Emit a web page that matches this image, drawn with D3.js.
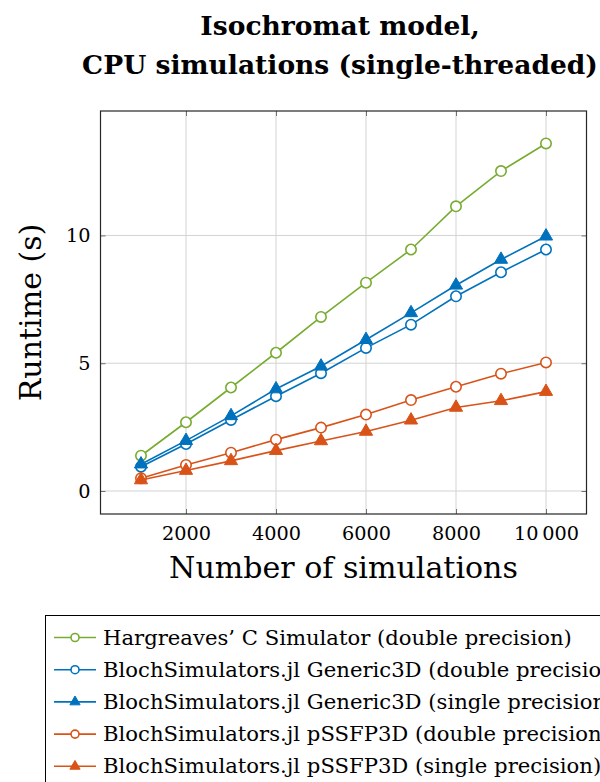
<!DOCTYPE html>
<html>
<head>
<meta charset="utf-8">
<script src="https://cdn.jsdelivr.net/npm/d3@7"></script>
<style>
html, body { margin: 0; padding: 0; background: #fff; }
svg { display: block; }
text { font-family: "DejaVu Serif", "Liberation Serif", serif; fill: #000; }
</style>
</head>
<body>
<script>
const simulations = [1000, 2000, 3000, 4000, 5000, 6000, 7000, 8000, 9000, 10000];
const hargreaves    = [1.38, 2.69, 4.05, 5.41, 6.81, 8.15, 9.45, 11.14, 12.52, 13.60];
const genericDouble = [0.95, 1.84, 2.78, 3.71, 4.61, 5.60, 6.51, 7.62, 8.56, 9.45];
const genericSingle = [1.05, 1.97, 2.94, 3.99, 4.88, 5.92, 6.97, 8.05, 9.06, 9.97];
const pssfpDouble   = [0.50, 1.02, 1.50, 2.01, 2.48, 2.99, 3.56, 4.08, 4.59, 5.03];
const pssfpSingle   = [0.43, 0.80, 1.18, 1.58, 1.96, 2.33, 2.77, 3.27, 3.53, 3.89];
const seriesNames = [
  "Hargreaves\u2019 C Simulator (double precision)",
  "BlochSimulators.jl Generic3D (double precision)",
  "BlochSimulators.jl Generic3D (single precision)",
  "BlochSimulators.jl pSSFP3D (double precision)",
  "BlochSimulators.jl pSSFP3D (single precision)"
];
const xTicks = [2000, 4000, 6000, 8000, 10000];
const xTickLabels = ["2000", "4000", "6000", "8000", "10\u2009000"];
const yTicks = [0, 5, 10];
const titleLines = ["Isochromat model,", "CPU simulations (single-threaded)"];
const xLabel = "Number of simulations";
const yLabel = "Runtime (s)";

const colors = ["#77AC30", "#0072BD", "#0072BD", "#D95319", "#D95319"];
const markers = ["circle", "circle", "triangle", "circle", "triangle"];
const values = [hargreaves, genericDouble, genericSingle, pssfpDouble, pssfpSingle];

const W = 600, H = 782;
const m = { left: 100.5, right: 586.5, top: 111, bottom: 514 };

const svg = d3.select("body").append("svg").attr("width", W).attr("height", H);

// helper: size a font so that a reference string has a given width
function fitSize(str, target, weight) {
  const t = svg.append("text").style("font-size", "20px").style("font-weight", weight || "normal").text(str);
  const w = t.node().getComputedTextLength();
  t.remove();
  return 20 * target / w;
}
const tickSize = fitSize("2000", 49);
const titleSize = fitSize(titleLines[1], 516, "bold");
const labelSize = fitSize(xLabel, 349);
const legendSize = fitSize(seriesNames[0], 469);

const x = d3.scaleLinear().domain([100, 10900]).range([m.left, m.right]);
const y = d3.scaleLinear().domain([-0.9, 14.87]).range([m.bottom, m.top]);

// grid
const g = svg.append("g");
g.selectAll(".gx").data(xTicks).enter().append("line")
  .attr("x1", d => x(d)).attr("x2", d => x(d))
  .attr("y1", m.top).attr("y2", m.bottom)
  .attr("stroke", "#d3d3d3").attr("stroke-width", 1);
g.selectAll(".gy").data(yTicks).enter().append("line")
  .attr("y1", d => y(d)).attr("y2", d => y(d))
  .attr("x1", m.left).attr("x2", m.right)
  .attr("stroke", "#d3d3d3").attr("stroke-width", 1);

// axes (ticks inside)
const tk = 5;
const xAxisB = d3.axisBottom(x).tickValues(xTicks).tickSize(-tk).tickPadding(0)
  .tickFormat((d, i) => xTickLabels[i]);
const xAxisT = d3.axisTop(x).tickValues(xTicks).tickSize(-tk).tickFormat("");
const yAxisL = d3.axisLeft(y).tickValues(yTicks).tickSize(-tk).tickPadding(10);
const yAxisR = d3.axisRight(y).tickValues(yTicks).tickSize(-tk).tickFormat("");

function styleAxis(sel) {
  sel.select(".domain").remove();
  sel.selectAll(".tick line").attr("stroke", "#707070").attr("stroke-width", 1);
  sel.selectAll("text").style("font-family", '"DejaVu Serif", serif')
    .style("font-size", tickSize + "px").attr("fill", "#000");
}
svg.append("g").attr("transform", `translate(0,${m.bottom})`).call(xAxisB).call(styleAxis)
  .selectAll("text").attr("y", 26).attr("dy", 0);
svg.append("g").attr("transform", `translate(0,${m.top})`).call(xAxisT).call(styleAxis);
svg.append("g").attr("transform", `translate(${m.left},0)`).call(yAxisL).call(styleAxis);
svg.append("g").attr("transform", `translate(${m.right},0)`).call(yAxisR).call(styleAxis);

// frame
svg.append("rect").attr("x", m.left).attr("y", m.top)
  .attr("width", m.right - m.left).attr("height", m.bottom - m.top)
  .attr("fill", "none").attr("stroke", "#262626").attr("stroke-width", 1.2);

// series
const line = d3.line().x((d, i) => x(simulations[i])).y(d => y(d));
const triSym = d3.symbol().type(d3.symbolTriangle).size(75);
values.forEach((vals, s) => {
  const sg = svg.append("g");
  sg.append("path").attr("d", line(vals)).attr("fill", "none")
    .attr("stroke", colors[s]).attr("stroke-width", 1.6);
  if (markers[s] === "circle") {
    sg.selectAll("circle").data(vals).enter().append("circle")
      .attr("cx", (d, i) => x(simulations[i])).attr("cy", d => y(d)).attr("r", 5.2)
      .attr("fill", "#fff").attr("stroke", colors[s]).attr("stroke-width", 1.6);
  } else {
    sg.selectAll("path.m").data(vals).enter().append("path").attr("class", "m")
      .attr("d", triSym)
      .attr("transform", (d, i) => `translate(${x(simulations[i])},${y(d)})`)
      .attr("fill", colors[s]).attr("stroke", colors[s]).attr("stroke-width", 1);
  }
});

// title
svg.selectAll(".title").data(titleLines).enter().append("text")
  .attr("x", 340).attr("y", (d, i) => 35 + i * 39)
  .attr("text-anchor", "middle")
  .style("font-size", titleSize + "px").style("font-weight", "bold")
  .text(d => d);

// axis labels
svg.append("text").attr("x", (m.left + m.right) / 2).attr("y", 578)
  .attr("text-anchor", "middle").style("font-size", labelSize + "px").text(xLabel);
svg.append("text").attr("transform", `translate(41,${(m.top + m.bottom) / 2}) rotate(-90)`)
  .attr("text-anchor", "middle").style("font-size", labelSize + "px").text(yLabel);

// legend
const lg = svg.append("g");
lg.append("rect").attr("x", 45.5).attr("y", 615.5).attr("width", 600).attr("height", 200)
  .attr("fill", "#fff").attr("stroke", "#000").attr("stroke-width", 1);
const legTri = d3.symbol().type(d3.symbolTriangle).size(45);
seriesNames.forEach((name, s) => {
  const cy = 637.5 + s * 32.2;
  lg.append("line").attr("x1", 54).attr("x2", 96).attr("y1", cy).attr("y2", cy)
    .attr("stroke", colors[s]).attr("stroke-width", 1.6);
  if (markers[s] === "circle") {
    lg.append("circle").attr("cx", 75).attr("cy", cy).attr("r", 4)
      .attr("fill", "#fff").attr("stroke", colors[s]).attr("stroke-width", 1.6);
  } else {
    lg.append("path").attr("d", legTri).attr("transform", `translate(75,${cy})`)
      .attr("fill", colors[s]).attr("stroke", colors[s]);
  }
  lg.append("text").attr("x", 103).attr("y", cy + 7).style("font-size", legendSize + "px").text(name);
});
</script>
</body>
</html>
